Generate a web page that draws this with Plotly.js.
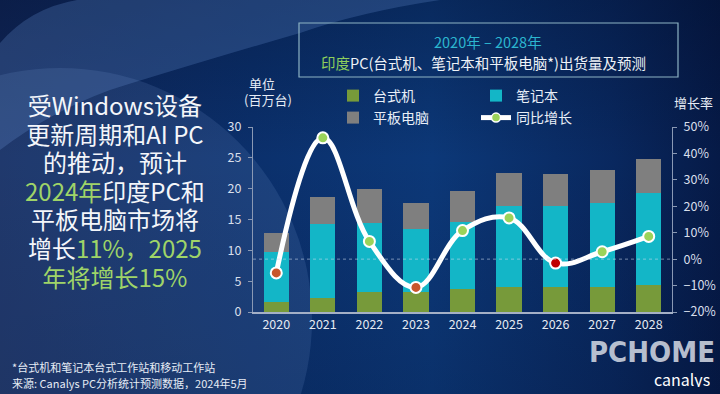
<!DOCTYPE html>
<html>
<head>
<meta charset="utf-8">
<script src="https://cdn.plot.ly/plotly-3.0.1.min.js"></script>
<style>
html,body{margin:0;padding:0;width:720px;height:394px;overflow:hidden;background:#0a2a60;}
#bg{position:absolute;left:0;top:0;}
#chart{position:absolute;left:0;top:0;width:720px;height:394px;}
</style>
</head>
<body>
<svg id="bg" width="720" height="394" xmlns="http://www.w3.org/2000/svg">
  <defs>
    <linearGradient id="gh" x1="0" y1="0" x2="1" y2="0">
      <stop offset="0" stop-color="#10275a"/>
      <stop offset="0.35" stop-color="#0b306c"/>
      <stop offset="0.6" stop-color="#0c3878"/>
      <stop offset="0.85" stop-color="#09285f"/>
      <stop offset="1" stop-color="#061a47"/>
    </linearGradient>
    <linearGradient id="gv" x1="0" y1="0" x2="0" y2="1">
      <stop offset="0" stop-color="#000820" stop-opacity="0.3"/>
      <stop offset="0.4" stop-color="#000820" stop-opacity="0"/>
      <stop offset="1" stop-color="#000820" stop-opacity="0.15"/>
    </linearGradient>
  </defs>
  <rect x="0" y="0" width="720" height="394" fill="url(#gh)"/>
  <rect x="0" y="0" width="720" height="394" fill="url(#gv)"/>
  <path d="M0,43 Q30,8 77,0 L440,0 Q360,12 300,33 Q190,65 110,90 Q50,112 0,150 Z" fill="#5a80c0" fill-opacity="0.3"/>
  <circle cx="60" cy="320" r="252" fill="#8aa8e0" fill-opacity="0.14"/>
</svg>
<div id="chart"></div>
<script>
// ---- data ----
const years = ['2020','2021','2022','2023','2024','2025','2026','2027','2028'];
const desktop  = [1.6, 2.2, 3.2, 3.2, 3.7, 4.1, 4.0, 4.0, 4.3];
const notebook = [8.1, 12.0, 11.3, 10.3, 10.9, 13.1, 13.2, 13.6, 15.0];
const tablet   = [3.1, 4.4, 5.4, 4.2, 5.1, 5.4, 5.2, 5.4, 5.5];
const growth   = [-5.2, 45.9, 6.7, -10.7, 10.8, 15.6, -1.5, 2.8, 8.6];
const seriesNames = ['台式机', '笔记本', '平板电脑', '同比增长'];
const leftAxisTitle = ['单位', '(百万台)'];
const rightAxisTitle = '增长率';

// ---- style ----
const FONT = '"Noto Sans CJK SC", "Noto Sans", sans-serif';
const cGreen = '#779a3a', cCyan = '#13b6c7', cGray = '#7f7f7f';
const markerColors = ['#c8562c','#9bd35a','#9bd35a','#c8562c','#9bd35a','#9bd35a','#c00000','#9bd35a','#9bd35a'];
const hl = '#9fd468';

// plot area in pixels: x 253..672, y 127..312
const L = 253, R = 672, T = 127, B = 312;
const px = x => (x - L) / (R - L);
const py = y => (B - y) / (B - T);

const traces = [
  {type:'bar', name:seriesNames[0], x:years, y:desktop, marker:{color:cGreen}, legend:'legend'},
  {type:'bar', name:seriesNames[1], x:years, y:notebook, marker:{color:cCyan}, legend:'legend'},
  {type:'bar', name:seriesNames[2], x:years, y:tablet, marker:{color:cGray}, legend:'legend2'},
  {type:'scatter', mode:'lines+markers', name:seriesNames[3], x:years, y:growth, yaxis:'y2',
   line:{color:'#ffffff', width:5, shape:'spline', smoothing:1.1},
   marker:{size:11, color:markerColors, line:{color:'#ffffff', width:2}},
   showlegend:false, cliponaxis:false},
  {type:'scatter', mode:'lines+markers', name:seriesNames[3], x:[null], y:[null], yaxis:'y2',
   line:{color:'#ffffff', width:5}, marker:{size:9, color:'#9bd35a', line:{color:'#ffffff', width:1.5}},
   legend:'legend2'}
];

const ann = (x, y, text, size, color, anchor, h, fam) => {
  const a = {
    xref:'paper', yref:'paper', x:px(x), y:py(y), text:text, showarrow:false,
    xanchor:anchor || 'center', yanchor:'middle',
    font:{family:fam || FONT, size:size, color:color}
  };
  if (h) { a.height = h; a.valign = 'middle'; }
  return a;
};

const leftLines = [
  '受Windows设备',
  '更新周期和AI PC',
  '的推动，预计',
  '<span style="color:'+hl+'">2024年</span>印度PC和',
  '平板电脑市场将',
  '增长<span style="color:'+hl+'">11%，2025</span>',
  '<span style="color:'+hl+'">年将增长15%</span>'
];
const leftText = leftLines.map(s => '<span style="font-size:24px">' + s + '</span>').join('<br>');

const annotations = [ann(115, 190, leftText, 22, '#f4f6fa', 'center')];
annotations.push(ann(488, 41, '2020年 – 2028年', 14.5, '#2cb6cf'));
annotations.push(ann(483, 62, '<span style="color:#8fd05c">印度</span>PC(台式机、笔记本和平板电脑*)出货量及预测', 14.5, '#eef2f7'));
annotations.push(ann(262, 83, leftAxisTitle[0], 13, '#e6ecf5'));
annotations.push(ann(268, 100, leftAxisTitle[1], 13, '#e6ecf5'));
annotations.push(ann(693, 102, rightAxisTitle, 13, '#e6ecf5'));
annotations.push(ann(10, 367, '*台式机和笔记本台式工作站和移动工作站', 11, '#e6ecf5', 'left'));
annotations.push(ann(10, 383, '来源: Canalys PC分析统计预测数据，2024年5月', 11, '#e6ecf5', 'left'));
annotations.push(ann(652, 352, '<b>PCHOME</b>', 29, 'rgba(215,220,230,0.85)', 'center', 26, '"Liberation Sans Narrow", "DejaVu Sans Condensed", sans-serif'));
annotations.push(ann(682, 379, 'canalys', 16, '#ffffff', 'center', 16));

const layout = {
  width:720, height:394,
  margin:{l:L, r:720-R, t:T, b:394-B, pad:0},
  paper_bgcolor:'rgba(0,0,0,0)', plot_bgcolor:'rgba(0,0,0,0)',
  font:{family:FONT, color:'#e0e6f0'},
  barmode:'stack', bargap:0.46,
  showlegend:true,
  xaxis:{type:'category', range:[-0.5, 8.5], showline:true, linecolor:'#a4b0c6', linewidth:1.5,
         ticks:'', tickfont:{size:12.5, color:'#e4e9f2'}, fixedrange:true},
  yaxis:{range:[0,30], dtick:5, showgrid:false, zeroline:false, showline:true, linecolor:'#8a99b4',
         linewidth:1, ticks:'outside', ticklen:4, tickcolor:'#8a99b4',
         tickfont:{size:12.5, color:'#d8dfeb'}, ticklabelstandoff:4},
  yaxis2:{overlaying:'y', side:'right', range:[-20,50], dtick:10, ticksuffix:'%', showgrid:false,
          zeroline:false, showline:true, linecolor:'#8a99b4', linewidth:1, ticks:'outside', ticklen:4,
          tickcolor:'#8a99b4', tickfont:{size:12.5, color:'#d8dfeb'}, ticklabelstandoff:4},
  legend:{orientation:'h', x:px(333), y:py(96), xanchor:'left', yanchor:'middle', traceorder:'normal',
          entrywidth:98, font:{size:14, color:'#e8eef7'}, bgcolor:'rgba(0,0,0,0)'},
  legend2:{orientation:'h', x:px(333), y:py(118), xanchor:'left', yanchor:'middle', traceorder:'normal',
          entrywidth:98, font:{size:14, color:'#e8eef7'}, bgcolor:'rgba(0,0,0,0)'},
  shapes:[
    {type:'rect', xref:'paper', yref:'paper', x0:px(299), x1:px(678), y0:py(77), y1:py(23),
     line:{color:'#8db3c4', width:1.2}, fillcolor:'rgba(0,0,0,0)'},
    {type:'line', xref:'paper', yref:'y2', x0:0, x1:1, y0:0, y1:0, layer:'above',
     line:{color:'rgba(205,218,238,0.55)', width:1, dash:'dot'}}
  ],
  annotations:annotations
};

Plotly.newPlot('chart', traces, layout, {displayModeBar:false, staticPlot:true});
</script>
</body>
</html>
